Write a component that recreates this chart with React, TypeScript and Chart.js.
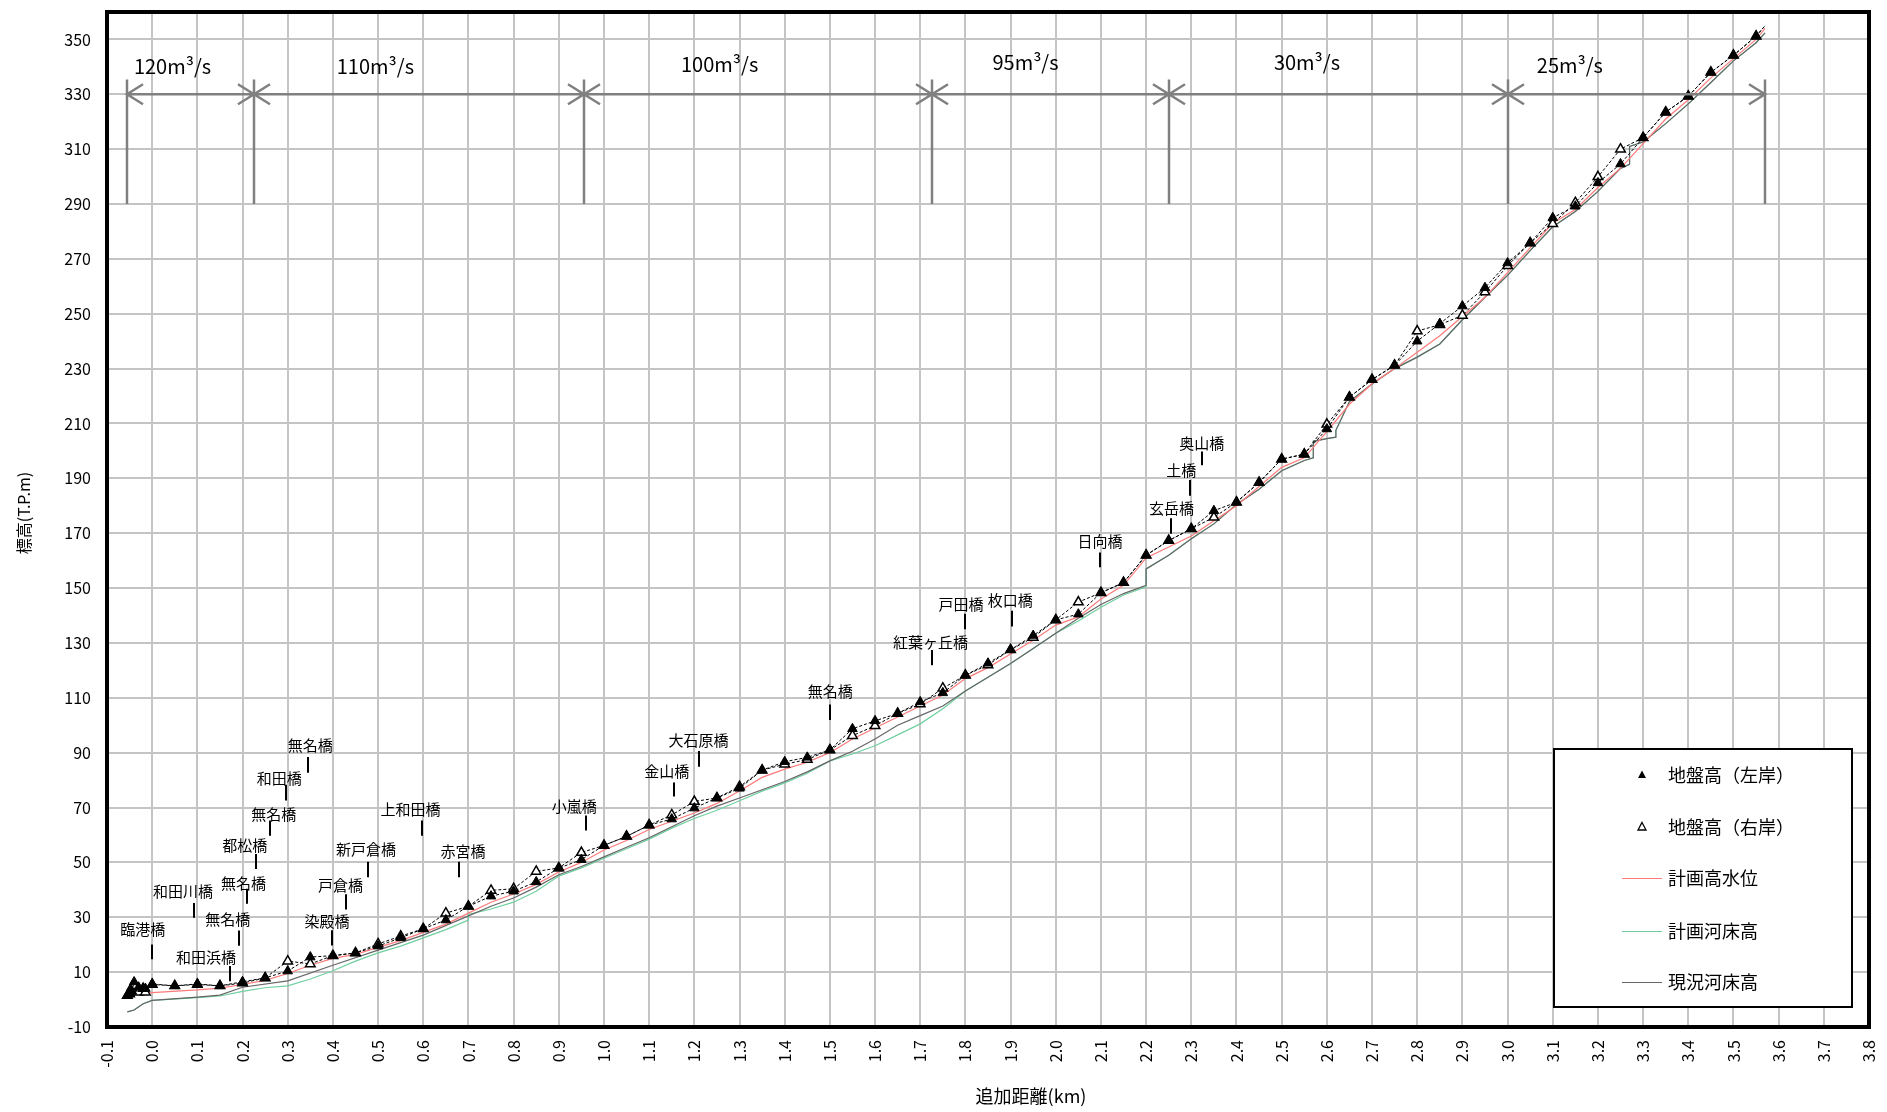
import React, { useEffect, useRef } from 'react';
import { Chart, registerables } from 'chart.js';

Chart.register(...registerables);

const FONT = '"Noto Sans CJK JP", "Noto Sans", sans-serif';

// ---- axis ticks ----
const xTickLabels = ['-0.1', '0.0', '0.1', '0.2', '0.3', '0.4', '0.5', '0.6', '0.7', '0.8', '0.9', '1.0', '1.1', '1.2', '1.3', '1.4', '1.5', '1.6', '1.7', '1.8', '1.9', '2.0', '2.1', '2.2', '2.3', '2.4', '2.5', '2.6', '2.7', '2.8', '2.9', '3.0', '3.1', '3.2', '3.3', '3.4', '3.5', '3.6', '3.7', '3.8'];
const yTickLabels = [-10, 10, 30, 50, 70, 90, 110, 130, 150, 170, 190, 210, 230, 250, 270, 290, 310, 330, 350];

// ---- ground height (banks) ----
const bankKm = [-0.055, -0.05, -0.045, -0.04, -0.03, -0.02, -0.015, 0.0, 0.05, 0.1, 0.15, 0.2, 0.25, 0.3, 0.35, 0.4, 0.45, 0.5, 0.55, 0.6, 0.65, 0.7, 0.75, 0.8, 0.85, 0.9, 0.95, 1.0, 1.05, 1.1, 1.15, 1.2, 1.25, 1.3, 1.35, 1.4, 1.45, 1.5, 1.55, 1.6, 1.65, 1.7, 1.75, 1.8, 1.85, 1.9, 1.95, 2.0, 2.05, 2.1, 2.15, 2.2, 2.25, 2.3, 2.35, 2.4, 2.45, 2.5, 2.55, 2.6, 2.65, 2.7, 2.75, 2.8, 2.85, 2.9, 2.95, 3.0, 3.05, 3.1, 3.15, 3.2, 3.25, 3.3, 3.35, 3.4, 3.45, 3.5, 3.55, 3.57];
const leftBank = [1.5, 2.5, 3, 6.4, 4.5, 4, 4, 5.7, 5, 5.7, 5, 6.5, 7.9, 10.4, 15.5, 16, 17, 19.5, 22.5, 25.8, 29, 34, 37.7, 39.5, 42.9, 47.9, 51, 56.2, 59.5, 63.6, 65.8, 69.8, 73.5, 77, 83.6, 86.7, 88.3, 91, 98.7, 101.6, 104.3, 108.5, 111.8, 118.2, 122.6, 127.5, 132.7, 138.4, 140.5, 148.3, 152, 162, 167.3, 171.6, 178.2, 181.3, 188.5, 197, 198.8, 208, 219.6, 226, 231.2, 240, 246.4, 252.8, 259.5, 268.5, 275.8, 285, 289.2, 297.7, 304.6, 314.2, 323.5, 329.3, 338, 344.2, 351.2, 355];
const rightBank = [1.5, 2, 4.5, 5, 2.7, 4, 2.7, 5.5, 5, 5.5, 5, 6, 7.9, 14, 13, 16, 17, 20.3, 23.1, 25.8, 31.5, 34, 39.8, 40.4, 46.7, 48, 53.6, 56.2, 59.5, 63.6, 67.3, 72.2, 73.5, 77.6, 83.6, 85.8, 87.5, 91, 96.2, 99.8, 104.3, 107.7, 113.5, 118.2, 122, 127.5, 132, 138.4, 144.9, 148.3, 152, 162, 167.3, 171.6, 175.8, 181.3, 188.5, 197, 198.8, 209.7, 219.6, 226, 231.2, 243.7, 246, 249.4, 257.9, 267.5, 275.8, 282.8, 290.5, 299.9, 310, 314.2, 323.5, 329.3, 338, 344.2, 351.2, 355];

// ---- planned high water level ----
const hwlKm = [-0.055, 0.0, 0.1, 0.15, 0.2, 0.25, 0.3, 0.35, 0.4, 0.45, 0.5, 0.55, 0.6, 0.65, 0.7, 0.75, 0.8, 0.85, 0.9, 0.95, 1.0, 1.05, 1.1, 1.15, 1.2, 1.25, 1.3, 1.35, 1.4, 1.45, 1.5, 1.55, 1.6, 1.65, 1.7, 1.75, 1.8, 1.85, 1.9, 1.95, 2.0, 2.05, 2.1, 2.15, 2.2, 2.25, 2.3, 2.35, 2.4, 2.45, 2.5, 2.55, 2.6, 2.65, 2.7, 2.75, 2.8, 2.85, 2.9, 2.95, 3.0, 3.05, 3.1, 3.15, 3.2, 3.25, 3.3, 3.35, 3.4, 3.45, 3.5, 3.55, 3.57];
const hwl = [1.5, 2.5, 3.5, 4.2, 5.5, 7, 9.5, 12.5, 15, 16.5, 19, 21.5, 24.5, 27.5, 31.5, 35.5, 38.5, 42, 46.5, 50, 54.5, 58, 62, 65, 68, 71.5, 76, 81, 84, 86.5, 90, 95, 99, 103, 107, 111, 117, 121, 126, 131, 136.5, 139.5, 146, 151, 161, 165, 169, 174.5, 180, 187, 194, 197.5, 207, 217, 224.5, 230, 236, 242, 249, 256, 265, 274, 283, 288, 296, 303, 312, 321, 328, 336, 343, 350, 354];

// ---- planned river bed ----
const bedPlanKm = [-0.055, -0.04, -0.02, 0.0, 0.1, 0.15, 0.2, 0.25, 0.3, 0.35, 0.4, 0.45, 0.5, 0.55, 0.6, 0.65, 0.7, 0.7, 0.75, 0.8, 0.85, 0.9, 0.95, 1.0, 1.05, 1.1, 1.15, 1.2, 1.25, 1.3, 1.35, 1.4, 1.45, 1.5, 1.55, 1.6, 1.65, 1.7, 1.75, 1.8, 1.85, 1.9, 1.95, 2.0, 2.05, 2.1, 2.15, 2.2, 2.2, 2.25, 2.3, 2.35, 2.4, 2.45, 2.5, 2.55, 2.57, 2.57, 2.6, 2.62, 2.62, 2.65, 2.7, 2.75, 2.8, 2.85, 2.9, 2.95, 3.0, 3.05, 3.1, 3.15, 3.2, 3.25, 3.27, 3.27, 3.3, 3.35, 3.4, 3.45, 3.5, 3.55, 3.57];
const bedPlan = [-4.5, -3.8, -1.5, -0.3, 0.7, 1.3, 3.0, 4.3, 5.0, 7.5, 10.5, 14, 17, 19.5, 22.5, 25.5, 29, 31, 33, 35.5, 39.5, 45, 48, 51.5, 55, 58.5, 62.5, 66, 69, 72.5, 76, 79, 82.5, 87, 89.5, 92.5, 96.5, 100.5, 106, 112.5, 117.5, 122.5, 128, 133.5, 138, 143, 147.5, 150.5, 157, 162, 168, 173.4, 180.5, 186, 192.8, 196.5, 197.5, 203.5, 204.5, 205, 207.5, 218, 224.4, 230, 234.2, 239, 247.8, 256, 264, 273, 281.7, 287.3, 294.6, 303, 304.5, 311, 312.6, 319.3, 326.5, 334.3, 342.2, 348.8, 352.4];

// ---- present river bed ----
const bedNowKm = [-0.055, -0.04, -0.02, 0.0, 0.1, 0.15, 0.2, 0.3, 0.4, 0.5, 0.6, 0.7, 0.75, 0.8, 0.85, 0.9, 0.95, 1.0, 1.05, 1.1, 1.15, 1.2, 1.25, 1.3, 1.35, 1.4, 1.45, 1.5, 1.55, 1.6, 1.65, 1.7, 1.75, 1.8, 1.85, 1.9, 1.95, 2.0, 2.05, 2.1, 2.15, 2.2, 2.2, 2.25, 2.3, 2.35, 2.4, 2.45, 2.5, 2.55, 2.57, 2.57, 2.6, 2.62, 2.62, 2.65, 2.7, 2.75, 2.8, 2.85, 2.9, 2.95, 3.0, 3.05, 3.1, 3.15, 3.2, 3.25, 3.27, 3.27, 3.3, 3.35, 3.4, 3.45, 3.5, 3.55, 3.57];
const bedNow = [-4.5, -3.8, -1.5, -0.3, 0.9, 1.6, 4.5, 6.8, 12.5, 18, 23.5, 30.5, 34, 37, 41, 45.5, 48.5, 52, 55.5, 59, 63, 67, 70.5, 73.5, 76.5, 79.5, 83, 87, 90.5, 95, 100, 103.5, 107, 112.5, 117.5, 122.5, 128, 133.5, 139, 144, 148, 151, 157, 162, 168, 173.4, 180.5, 186, 192.8, 196.5, 197.5, 203.5, 204.5, 205, 207.5, 218, 224.4, 230, 234.2, 239, 247.8, 256, 264, 273, 281.7, 287.3, 294.6, 303, 304.5, 311, 312.6, 319.3, 326.5, 334.3, 342.2, 348.8, 352.4];

// ---- design discharge sections ----
const flowBoundaryKm = [-0.055, 0.225, 0.955, 1.725, 2.25, 3.0, 3.57];
const flowLabels = ['120m³/s', '110m³/s', '100m³/s', '95m³/s', '30m³/s', '25m³/s'];
const flowLabelKm = [0.045, 0.494, 1.256, 1.933, 2.556, 3.138];
const flowLabelElev = [340, 340, 341, 341.5, 341.5, 340.5];

// ---- bridges ----
const bridgeNames = ['臨港橋', '和田浜橋', '無名橋', '和田川橋', '無名橋', '都松橋', '無名橋', '和田橋', '無名橋', '染殿橋', '戸倉橋', '新戸倉橋', '上和田橋', '赤宮橋', '小嵐橋', '金山橋', '大石原橋', '無名橋', '紅葉ヶ丘橋', '戸田橋', '枚口橋', '日向橋', '玄岳橋', '土橋', '奥山橋'];
const bridgeLabelKm = [-0.021, 0.119, 0.167, 0.068, 0.202, 0.205, 0.269, 0.281, 0.35, 0.387, 0.417, 0.473, 0.572, 0.688, 0.934, 1.139, 1.209, 1.501, 1.723, 1.79, 1.899, 2.098, 2.256, 2.278, 2.323];
const bridgeLabelElev = [25.6, 15.5, 29.1, 39.5, 42.4, 56.4, 67.7, 80.7, 92.6, 28.6, 41.8, 54.6, 69.2, 54.1, 70.4, 83.1, 94.6, 112.2, 130.1, 144.1, 145.4, 167.1, 179.2, 192.8, 202.7];
const bridgeKm = [0.0, 0.173, 0.192, 0.093, 0.21, 0.23, 0.26, 0.296, 0.344, 0.399, 0.429, 0.478, 0.598, 0.679, 0.96, 1.154, 1.21, 1.5, 1.726, 1.798, 1.903, 2.099, 2.256, 2.298, 2.323];
const bridgeTickTop = [20.1, 12.2, 25.2, 35.2, 40.4, 53.1, 65.3, 78.3, 88.4, 25.3, 38.4, 50.2, 65.3, 50.2, 67.1, 79.1, 90.6, 107.6, 127.4, 140.6, 141.7, 163, 175.5, 189.4, 199.8];
const bridgeTickBottom = [14.7, 6.7, 19.6, 29.8, 34.9, 47.6, 59.7, 72.6, 82.7, 19.7, 32.8, 44.6, 59.7, 44.6, 61.6, 74, 84.9, 101.9, 121.9, 135, 136, 157.6, 169.8, 183.7, 194.8];

// ---- legend ----
const legendLabels = ['地盤高（左岸）', '地盤高（右岸）', '計画高水位', '計画河床高', '現況河床高'];

const COLORS = {
  hwl: '#ff7a7a',
  bedPlan: '#6fcf9f',
  bedNow: '#666666',
};

export default function App() {
  const ref = useRef<HTMLCanvasElement | null>(null);

  useEffect(() => {
    document.body.style.margin = '0';
    document.body.style.overflow = 'hidden';
    const canvas = ref.current;
    if (!canvas) return;

    const xVals = xTickLabels.map((s) => parseFloat(s));
    const pts = (xs: number[], ys: number[]) => xs.map((x, i) => ({ x, y: ys[i] }));
    const lastIdx = bankKm.length - 1;
    const markerR = (c: any) => (c.dataIndex === lastIdx ? 0 : 5.5);

    const tri = (ctx: CanvasRenderingContext2D, cx: number, cy: number, filled: boolean) => {
      ctx.beginPath();
      ctx.moveTo(cx, cy - 4.5);
      ctx.lineTo(cx + 4, cy + 3);
      ctx.lineTo(cx - 4, cy + 3);
      ctx.closePath();
      if (filled) {
        ctx.fillStyle = '#000';
        ctx.fill();
      } else {
        ctx.fillStyle = '#fff';
        ctx.fill();
        ctx.strokeStyle = '#000';
        ctx.lineWidth = 1.3;
        ctx.stroke();
      }
    };

    const overlay = {
      id: 'overlay',
      afterDatasetsDraw(chart: any) {
        const { ctx } = chart;
        const xs = chart.scales.x;
        const ys = chart.scales.y;
        const X = (v: number) => xs.getPixelForValue(v);
        const Y = (v: number) => ys.getPixelForValue(v);
        ctx.save();

        // bridges
        ctx.fillStyle = '#000';
        ctx.strokeStyle = '#000';
        ctx.lineWidth = 2;
        ctx.font = `15px ${FONT}`;
        ctx.textAlign = 'center';
        ctx.textBaseline = 'middle';
        bridgeNames.forEach((name, i) => {
          ctx.fillText(name, X(bridgeLabelKm[i]), Y(bridgeLabelElev[i]));
          const px = Math.round(X(bridgeKm[i]));
          ctx.beginPath();
          ctx.moveTo(px, Y(bridgeTickTop[i]));
          ctx.lineTo(px, Y(bridgeTickBottom[i]));
          ctx.stroke();
        });

        // discharge sections
        ctx.strokeStyle = '#808080';
        ctx.lineWidth = 2.5;
        const yTop = Y(335.4);
        const yBot = Y(290);
        const yA = Y(330);
        flowBoundaryKm.forEach((k) => {
          const px = Math.round(X(k));
          ctx.beginPath();
          ctx.moveTo(px, yTop);
          ctx.lineTo(px, yBot);
          ctx.stroke();
        });
        for (let i = 0; i < flowLabels.length; i++) {
          const x0 = Math.round(X(flowBoundaryKm[i]));
          const x1 = Math.round(X(flowBoundaryKm[i + 1]));
          ctx.beginPath();
          ctx.moveTo(x0, yA);
          ctx.lineTo(x1, yA);
          ctx.moveTo(x0 + 16, yA - 10);
          ctx.lineTo(x0, yA);
          ctx.lineTo(x0 + 16, yA + 10);
          ctx.moveTo(x1 - 16, yA - 10);
          ctx.lineTo(x1, yA);
          ctx.lineTo(x1 - 16, yA + 10);
          ctx.stroke();
        }
        ctx.fillStyle = '#000';
        ctx.font = `20px ${FONT}`;
        flowLabels.forEach((t, i) => {
          ctx.fillText(t, X(flowLabelKm[i]), Y(flowLabelElev[i]));
        });
        ctx.restore();
      },
      afterDraw(chart: any) {
        const { ctx, chartArea } = chart;
        ctx.save();
        // plot border
        ctx.strokeStyle = '#000';
        ctx.lineWidth = 4;
        ctx.strokeRect(chartArea.left, chartArea.top, chartArea.right - chartArea.left, chartArea.bottom - chartArea.top);

        // legend
        const lx = 1554, ly = 749, lw = 298, lh = 258;
        ctx.fillStyle = '#fff';
        ctx.fillRect(lx, ly, lw, lh);
        ctx.lineWidth = 2;
        ctx.strokeStyle = '#000';
        ctx.strokeRect(lx, ly, lw, lh);
        const rows = [775, 827, 878, 931, 982];
        const lineColors = [null, null, COLORS.hwl, COLORS.bedPlan, COLORS.bedNow];
        ctx.font = `18px ${FONT}`;
        ctx.textAlign = 'left';
        ctx.textBaseline = 'middle';
        legendLabels.forEach((label, i) => {
          const cy = rows[i];
          if (i === 0) tri(ctx, 1642, cy, true);
          else if (i === 1) tri(ctx, 1642, cy, false);
          else {
            ctx.strokeStyle = lineColors[i] as string;
            ctx.lineWidth = 1.2;
            ctx.beginPath();
            ctx.moveTo(1622, cy + 0.5);
            ctx.lineTo(1662, cy + 0.5);
            ctx.stroke();
          }
          ctx.fillStyle = '#000';
          ctx.fillText(label, 1668, cy);
        });

        // axis titles
        ctx.fillStyle = '#000';
        ctx.textAlign = 'center';
        ctx.textBaseline = 'middle';
        ctx.font = `16px ${FONT}`;
        ctx.save();
        ctx.translate(24, 513);
        ctx.rotate(-Math.PI / 2);
        ctx.fillText('標高(T.P.m)', 0, 0);
        ctx.restore();
        ctx.font = `18px ${FONT}`;
        ctx.fillText('追加距離(km)', 1031, 1096);
        ctx.restore();
      },
    };

    const chart = new Chart(canvas, {
      type: 'scatter',
      data: {
        datasets: [
          {
            label: legendLabels[0],
            data: pts(bankKm, leftBank),
            showLine: true,
            borderColor: '#000',
            borderWidth: 1,
            borderDash: [3, 2],
            pointStyle: 'triangle',
            pointRadius: markerR,
            pointBackgroundColor: '#000',
            pointBorderColor: '#000',
            pointBorderWidth: 1,
          },
          {
            label: legendLabels[1],
            data: pts(bankKm, rightBank),
            showLine: true,
            borderColor: '#000',
            borderWidth: 1,
            borderDash: [3, 2],
            pointStyle: 'triangle',
            pointRadius: markerR,
            pointBackgroundColor: '#fff',
            pointBorderColor: '#000',
            pointBorderWidth: 1.5,
          },
          {
            label: legendLabels[2],
            data: pts(hwlKm, hwl),
            showLine: true,
            borderColor: COLORS.hwl,
            borderWidth: 1.2,
            pointRadius: 0,
          },
          {
            label: legendLabels[4],
            data: pts(bedNowKm, bedNow),
            showLine: true,
            borderColor: COLORS.bedNow,
            borderWidth: 1.2,
            pointRadius: 0,
          },
          {
            label: legendLabels[3],
            data: pts(bedPlanKm, bedPlan),
            showLine: true,
            borderColor: COLORS.bedPlan,
            borderWidth: 1.2,
            pointRadius: 0,
          },
        ],
      },
      options: {
        animation: false,
        responsive: false,
        maintainAspectRatio: false,
        layout: { padding: { top: 12, right: 18, left: 0, bottom: 0 } },
        plugins: { legend: { display: false }, tooltip: { enabled: false } },
        scales: {
          x: {
            type: 'linear',
            min: -0.1,
            max: 3.8,
            afterBuildTicks: (ax: any) => {
              ax.ticks = xVals.map((v) => ({ value: v }));
            },
            afterFit: (ax: any) => {
              ax.height = 85;
              ax.paddingLeft = 0;
              ax.paddingRight = 0;
            },
            grid: { color: '#c4c4c4', lineWidth: 2, drawTicks: false },
            border: { display: false },
            ticks: {
              autoSkip: false,
              maxRotation: 90,
              minRotation: 90,
              padding: 13,
              color: '#000',
              font: { family: FONT, size: 16 },
              callback: (_v: any, i: number) => xTickLabels[i],
            },
          },
          y: {
            type: 'linear',
            min: -10,
            max: 360,
            afterBuildTicks: (ax: any) => {
              ax.ticks = yTickLabels.map((v) => ({ value: v }));
            },
            afterFit: (ax: any) => {
              ax.width = 107;
              ax.paddingTop = 0;
              ax.paddingBottom = 0;
            },
            grid: { color: '#c4c4c4', lineWidth: 2, drawTicks: false },
            border: { display: false },
            ticks: {
              autoSkip: false,
              padding: 16,
              color: '#000',
              font: { family: FONT, size: 16 },
              callback: (_v: any, i: number) => String(yTickLabels[i]),
            },
          },
        },
      },
      plugins: [overlay],
    } as any);

    return () => chart.destroy();
  }, []);

  return (
    <div style={{ width: 1887, height: 1112, position: 'relative', overflow: 'hidden', background: '#fff' }}>
      <canvas ref={ref} width={1887} height={1112} style={{ display: 'block' }} />
    </div>
  );
}
